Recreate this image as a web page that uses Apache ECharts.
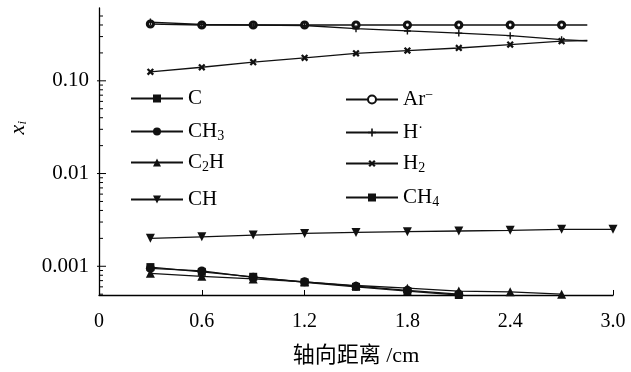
<!DOCTYPE html>
<html>
<head>
<meta charset="utf-8">
<script src="https://cdn.jsdelivr.net/npm/echarts@6/dist/echarts.min.js"></script>
<style>
html,body{margin:0;padding:0;background:#fff;}
#chart{width:631px;height:372px;}
</style>
</head>
<body>
<div id="chart"></div>
<script>
// ---- data ----
const xTop = [0.3, 0.6, 0.9, 1.2, 1.5, 1.8, 2.1, 2.4, 2.7, 2.85];
const arY  = [0.41, 0.40, 0.40, 0.40, 0.40, 0.40, 0.40, 0.40, 0.40, 0.40];
const hY   = [0.43, 0.405, 0.40, 0.395, 0.365, 0.345, 0.327, 0.307, 0.278, 0.27];
const h2Y  = [0.125, 0.14, 0.159, 0.177, 0.198, 0.212, 0.226, 0.246, 0.268, 0.272];

const xCH  = [0.3, 0.6, 0.9, 1.2, 1.5, 1.8, 2.1, 2.4, 2.7, 3.0];
const chY  = [0.0020, 0.00208, 0.00217, 0.00226, 0.00232, 0.00236, 0.0024, 0.00244, 0.0025, 0.0025];

const xLow = [0.3, 0.6, 0.9, 1.2, 1.5, 1.8, 2.1, 2.4, 2.7];
const ch3Y = [0.00095, 0.00089, 0.00076, 0.00068, 0.00061, 0.00055, 0.0005];
const ch4Y = [0.00098, 0.00087, 0.00077, 0.00067, 0.0006, 0.00054, 0.00049];
const c2hY = [0.00084, 0.00078, 0.00073, 0.00068, 0.00062, 0.00058, 0.00054, 0.00053, 0.0005];
const cY   = [];

const xTicks = [0, 0.6, 1.2, 1.8, 2.4, 3.0];
const yMajorTicks = [0.001, 0.01, 0.1];
const yMinorTicks = [0.0005, 0.0006, 0.0007, 0.0008, 0.0009,
  0.002, 0.003, 0.004, 0.005, 0.006, 0.007, 0.008, 0.009,
  0.02, 0.03, 0.04, 0.05, 0.06, 0.07, 0.08, 0.09,
  0.2, 0.3, 0.4, 0.5];
const yLabelText = {'-3': '0.001', '-2': '0.01', '-1': '0.10'};

// ---- build ----
const FONT = "'Liberation Serif','DejaVu Serif',serif";
function pairs(xs, ys, hideLast) {
  return ys.map((y, i) => {
    const it = {value: [xs[i], y]};
    if (hideLast && i === ys.length - 1) it.symbol = 'none';
    return it;
  });
}
const plus = 'path://M4,0H6V4H10V6H6V10H4V6H0V4H4Z';
const plusBold = 'path://M3.6,0H6.4V3.6H10V6.4H6.4V10H3.6V6.4H0V3.6H3.6Z';
const black = '#111';
function lineSeries(name, data, symbol, size, extra) {
  return Object.assign({
    name, type: 'line', data, symbol, symbolSize: size,
    showAllSymbol: true,
    lineStyle: {color: black, width: 1.3},
    itemStyle: {color: black},
    emphasis: {disabled: true},
    animation: false, z: 3
  }, extra || {});
}

const names = {
  'C': 'C', 'CH3': 'CH{sub|3}', 'C2H': 'C{sub|2}H', 'CH': 'CH',
  'Ar': 'Ar{sup|−}', 'H': 'H{sup|·}', 'H2': 'H{sub|2}', 'CH4': 'CH{sub|4}'
};
const legendPos = [
  ['C', 130, 88], ['CH3', 130, 121], ['C2H', 130, 152], ['CH', 130, 189],
  ['Ar', 345, 88], ['H', 345, 121], ['H2', 345, 153], ['CH4', 345, 187]
];
const legends = legendPos.map(([n, l, t]) => ({
  data: [n], left: l, top: t, padding: 0,
  itemWidth: 52, itemHeight: 10,
  selectedMode: false,
  formatter: (nm) => names[nm],
  textStyle: {
    fontFamily: FONT, fontSize: 21, color: '#000',
    rich: {
      sub: {fontFamily: FONT, fontSize: 14, padding: [9, 0, 0, 0], color: '#000'},
      sup: {fontFamily: FONT, fontSize: 14, padding: [0, 0, 9, 0], color: '#000'}
    }
  }
}));

const tickData = yMajorTicks.map(v => [0, v, 1]).concat(yMinorTicks.map(v => [0, v, 0]));

const option = {
  backgroundColor: '#fff',
  animation: false,
  grid: {left: 99, right: 18, top: 8, bottom: 76, containLabel: false},
  legend: legends,
  xAxis: {
    type: 'value', min: 0, max: 3.0, interval: 0.6,
    name: '轴向距离 /cm', nameLocation: 'middle', nameGap: 50,
    nameTextStyle: {fontFamily: "'Liberation Serif','Noto Sans CJK SC',serif", fontSize: 22, color: '#000'},
    axisLine: {lineStyle: {color: '#000', width: 1.3}},
    axisTick: {inside: true, length: 5, lineStyle: {color: '#000'}},
    axisLabel: {fontFamily: FONT, fontSize: 20, color: '#000', margin: 17,
      formatter: v => (Math.abs(v - 3) < 1e-9 ? '3.0' : String(+v.toFixed(1)))},
    splitLine: {show: false}
  },
  yAxis: {
    type: 'log', logBase: 10, min: 0.00049, max: 0.61,
    axisLine: {show: true, lineStyle: {color: '#000', width: 1.3}},
    axisTick: {show: false},
    axisLabel: {fontFamily: FONT, fontSize: 21, color: '#000', margin: 10,
      formatter: v => yLabelText[String(Math.round(Math.log10(v)))] && Math.abs(Math.log10(v) - Math.round(Math.log10(v))) < 1e-6 ? yLabelText[String(Math.round(Math.log10(v)))] : ''},
    splitLine: {show: false}
  },
  graphic: [{
    type: 'text', left: 7, top: 121, rotation: Math.PI / 2,
    style: {
      text: '{x|x}{i|i}',
      rich: {
        x: {fontFamily: FONT, fontStyle: 'italic', fontSize: 22, fill: '#000'},
        i: {fontFamily: FONT, fontStyle: 'italic', fontSize: 13, fill: '#000', padding: [10, 0, 0, 0]}
      }
    }
  }],
  series: [
    lineSeries('C', pairs(xLow, cY), 'rect', 8),
    lineSeries('CH3', pairs(xLow, ch3Y), 'circle', 9),
    lineSeries('C2H', pairs(xLow, c2hY), 'triangle', 9),
    lineSeries('CH', pairs(xCH, chY), 'triangle', 9, {symbolRotate: 180}),
    lineSeries('Ar', pairs(xTop, arY, true), 'circle', 6,
      {itemStyle: {color: '#fff', borderColor: black, borderWidth: 3.2}}),
    lineSeries('H', pairs(xTop, hY, true), plus, 7),
    lineSeries('H2', pairs(xTop, h2Y, true), plusBold, 8, {symbolRotate: 45}),
    lineSeries('CH4', pairs(xLow, ch4Y), 'rect', 8),
    {
      type: 'custom', silent: true, clip: false, z: 5,
      data: tickData,
      encode: {x: 0, y: 1},
      renderItem: (params, api) => {
        const p = api.coord([api.value(0), api.value(1)]);
        const major = api.value(2) === 1;
        return {
          type: 'line',
          shape: {x1: p[0] - (major ? 2 : 0), y1: p[1], x2: p[0] + (major ? 7 : 4), y2: p[1]},
          style: {stroke: '#000', lineWidth: 1}
        };
      }
    }
  ]
};
const chart = echarts.init(document.getElementById('chart'), null, {renderer: 'canvas'});
chart.setOption(option);
</script>
</body>
</html>
